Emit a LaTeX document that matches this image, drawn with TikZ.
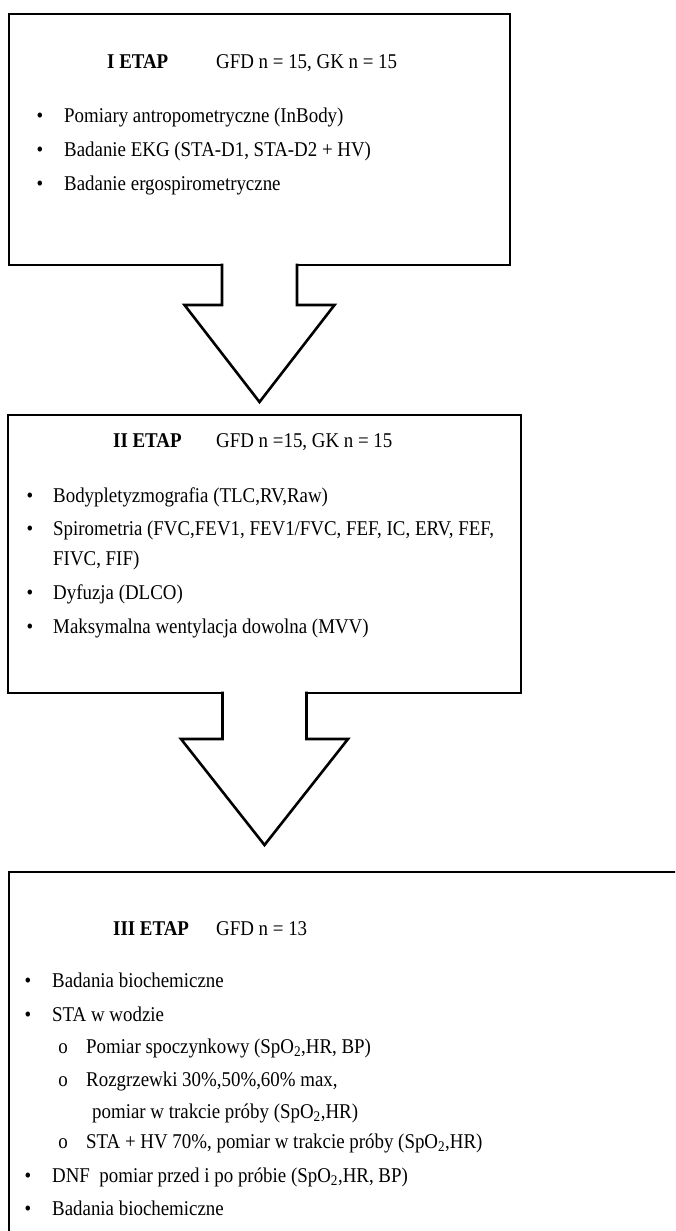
\documentclass[tikz,border=0pt]{standalone}
\usepackage{fontspec}
\setmainfont[FakeStretch=0.9]{Liberation Serif}
\usetikzlibrary{calc}

\begin{document}
\begin{tikzpicture}[x=1pt, y=-1pt,
  stagebox/.style={draw, line width=2.6pt, inner sep=0pt, outer sep=0pt},
  flowarrow/.style={draw, line width=2.6pt, fill=white, line join=miter},
  txt/.style={anchor=base west, inner sep=0pt, font=\fontsize{21}{25}\selectfont},
  head/.style={txt, font=\fontsize{21}{25}\selectfont\bfseries},
  bul/.style={anchor=base, inner sep=0pt, font=\fontsize{21}{25}\selectfont}]
\useasboundingbox (0,0) rectangle (675,1231);
\clip (0,0) rectangle (675,1231);

% stage boxes
\node[stagebox, minimum width=501pt, minimum height=251pt] (b1) at (259.5,139.5) {};
\node[stagebox, minimum width=513pt, minimum height=278pt] (b2) at (264.5,554) {};
\node[stagebox, minimum width=700pt, minimum height=400pt, anchor=north west] (b3) at (9,872) {};

% block arrows
\draw[flowarrow] ($(b1.south)+(-37.5,-1.3)$) -- ($(b1.south)+(-37.5,40)$) -- ($(b1.south)+(-75,40)$)
  -- ($(b1.south |- b2.north)+(0,-13)$) -- ($(b1.south)+(75,40)$) -- ($(b1.south)+(37.5,40)$)
  -- ($(b1.south)+(37.5,-1.3)$);
\draw[flowarrow] ($(b2.south)+(-42,-1.3)$) -- ($(b2.south)+(-42,46)$) -- ($(b2.south)+(-83.5,46)$)
  -- ($(b2.south |- b3.north)+(0,-27)$) -- ($(b2.south)+(83.5,46)$) -- ($(b2.south)+(42,46)$)
  -- ($(b2.south)+(42,-1.3)$);

% stage I
\node[head] (e1) at (107,69) {I ETAP};
\node[txt] (g1) at (216,69) {GFD n = 15, GK n = 15};
\node[bul] (u11) at (40,122) {•};
\node[txt] (p11) at (64,122) {Pomiary antropometryczne (InBody)};
\node[bul] (u12) at (40,156) {•};
\node[txt] (p12) at (64,156) {Badanie EKG (STA-D1, STA-D2 + HV)};
\node[bul] (u13) at (40,190) {•};
\node[txt] (p13) at (64,190) {Badanie ergospirometryczne};

% stage II
\node[head] (e2) at (113,447) {II ETAP};
\node[txt] (g2) at (216,447) {GFD n =15, GK n = 15};
\node[bul] (u21) at (30,502) {•};
\node[txt] (p21) at (53,502) {Bodypletyzmografia (TLC,RV,Raw)};
\node[bul] (u22) at (30,535) {•};
\node[txt] (p22) at (53,535) {Spirometria (FVC,FEV1, FEV1/FVC, FEF, IC, ERV, FEF,};
\node[txt] (p22b) at (53,565) {FIVC, FIF)};
\node[bul] (u23) at (30,599) {•};
\node[txt] (p23) at (53,599) {Dyfuzja (DLCO)};
\node[bul] (u24) at (30,633) {•};
\node[txt] (p24) at (53,633) {Maksymalna wentylacja dowolna (MVV)};

% stage III
\node[head] (e3) at (113,935) {III ETAP};
\node[txt] (g3) at (216,935) {GFD n = 13};
\node[bul] (u31) at (28,987) {•};
\node[txt] (p31) at (52,987) {Badania biochemiczne};
\node[bul] (u32) at (28,1021) {•};
\node[txt] (p32) at (52,1021) {STA w wodzie};
\node[bul] (s1) at (63,1053) {o};
\node[txt] (q1) at (86,1053) {Pomiar spoczynkowy (SpO\textsubscript{2},HR, BP)};
\node[bul] (s2) at (63,1086) {o};
\node[txt] (q2) at (86,1086) {Rozgrzewki 30\%,50\%,60\% max,};
\node[txt] (q2b) at (92,1118) {pomiar w trakcie próby (SpO\textsubscript{2},HR)};
\node[bul] (s3) at (63,1148) {o};
\node[txt] (q3) at (86,1148) {STA + HV 70\%, pomiar w trakcie próby (SpO\textsubscript{2},HR)};
\node[bul] (u33) at (28,1182) {•};
\node[txt] (p33) at (52,1182) {DNF\ \ pomiar przed i po próbie (SpO\textsubscript{2},HR, BP)};
\node[bul] (u34) at (28,1215) {•};
\node[txt] (p34) at (52,1215) {Badania biochemiczne};
\end{tikzpicture}
\end{document}
